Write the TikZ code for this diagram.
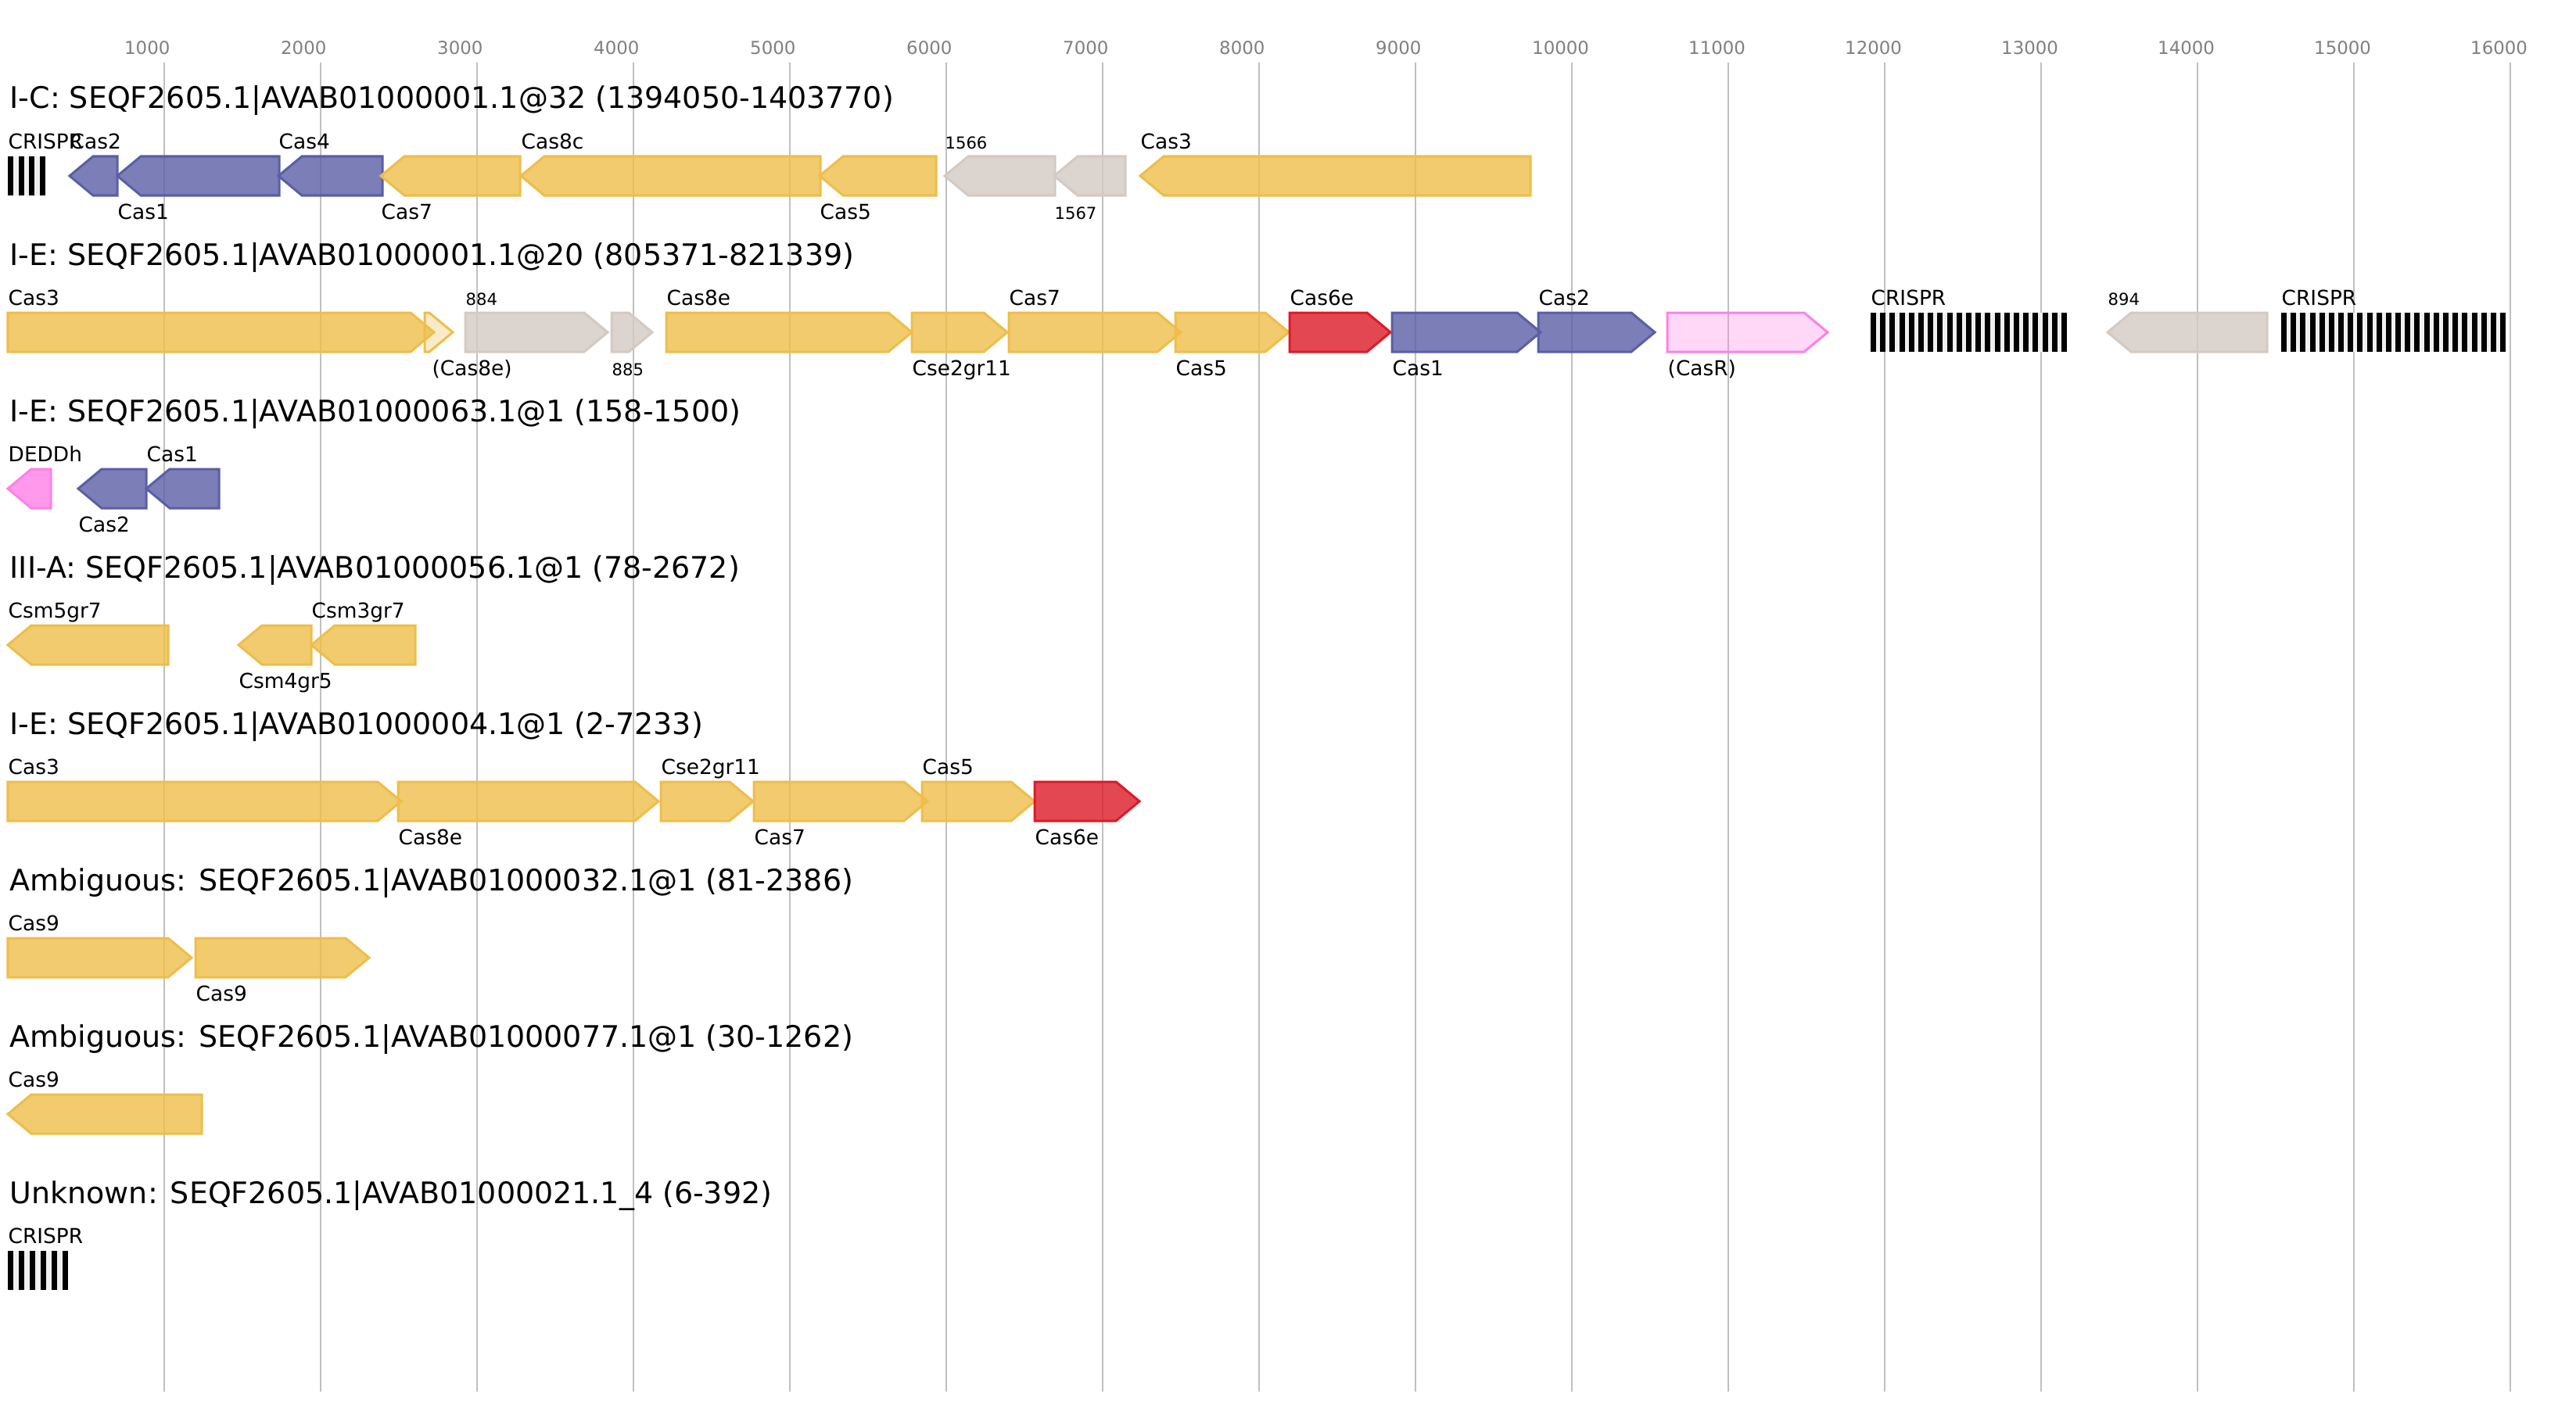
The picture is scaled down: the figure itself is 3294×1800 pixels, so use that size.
\documentclass[tikz,border=0pt]{standalone}
\usepackage{fontspec}
\setmainfont{DejaVu Sans}
\usepackage{tikz}

\definecolor{casyellow}{HTML}{EEBE4A}
\definecolor{casblue}{HTML}{5A5EA6}
\definecolor{casred}{HTML}{DD1A27}
\definecolor{caspink}{HTML}{FF80E6}
\definecolor{casgray}{HTML}{D4CAC3}
\definecolor{crisprgap}{HTML}{F0F0F0}
\definecolor{gridgray}{HTML}{C0C0C0}
\definecolor{tickgray}{HTML}{808080}

% gene arrows: style, start, end, row centre
\newcommand{\fwdgene}[4]{%
  \pgfmathsetmacro{\headlen}{min(30,#3-#2)}
  \draw[#1] (#2,#4-25) -- (#3-\headlen,#4-25) -- (#3,#4) -- (#3-\headlen,#4+25) -- (#2,#4+25) -- cycle;
}
\newcommand{\revgene}[4]{%
  \pgfmathsetmacro{\headlen}{min(30,#3-#2)}
  \draw[#1] (#3,#4-25) -- (#2+\headlen,#4-25) -- (#2,#4) -- (#2+\headlen,#4+25) -- (#3,#4+25) -- cycle;
}
% CRISPR array: start, end, row centre, repeats
\newcommand{\crisprarr}[4]{%
  \fill[crisprgap] (#1,#3-25) rectangle (#2,#3+25);
  \foreach \r in {1,...,#4}{
    \fill[black] ({#1+(\r-1)*(#2-#1-7)/(#4-1)},#3-25) rectangle ++(7,50);
  }
}

\begin{document}
\begin{tikzpicture}[x=0.01cm, y=-0.01cm,
    gene/.style={line width=0.03cm, fill opacity=0.8, line join=miter},
    interf/.style={gene, draw=casyellow, fill=casyellow},
    interfpale/.style={interf, fill opacity=0.3},
    adapt/.style={gene, draw=casblue, fill=casblue},
    proc/.style={gene, draw=casred, fill=casred},
    acc/.style={gene, draw=caspink, fill=caspink},
    accpale/.style={acc, fill opacity=0.3},
    hypo/.style={gene, draw=casgray, fill=casgray},
    gridline/.style={draw=gridgray, line width=0.02cm},
    ttl/.style={font=\fontsize{10.8}{13}\selectfont, inner sep=0pt, anchor=base west},
    lab/.style={font=\fontsize{7.5}{9}\selectfont, inner sep=0pt, anchor=base west},
    smalllab/.style={lab, font=\fontsize{6}{7}\selectfont},
    ticklab/.style={font=\fontsize{6.5}{8}\selectfont, text=tickgray, inner sep=0pt, anchor=base west}]

    \fill[white] (0,0) rectangle (3294,1800);
    \useasboundingbox (0,0) rectangle (3294,1800);

    % scale
    \foreach \k in {1,...,16} {
        \draw[gridline] (10+200*\k,80) -- (10+200*\k,1780);
        \node[ticklab] (tick\k) at (10+200*\k-51.5,70) {\k000};
    }

    % I-C
    \node[ttl] (title-ic) at (12,139) {I-C: SEQF2605.1|AVAB01000001.1@32 (1394050-1403770)};
    \crisprarr{10}{58}{225}{4}
    \node[lab] (ic-crispr) at (10,190) {CRISPR};
    \revgene{adapt}{89}{150}{225}
    \node[lab] (ic-cas2) at (89,190) {Cas2};
    \revgene{adapt}{150}{357}{225}
    \node[lab] (ic-cas1) at (150,280) {Cas1};
    \revgene{adapt}{356}{489}{225}
    \node[lab] (ic-cas4) at (356,190) {Cas4};
    \revgene{interf}{487}{665}{225}
    \node[lab] (ic-cas7) at (487,280) {Cas7};
    \revgene{interf}{666}{1049}{225}
    \node[lab] (ic-cas8c) at (666,190) {Cas8c};
    \revgene{interf}{1048}{1197}{225}
    \node[lab] (ic-cas5) at (1048,280) {Cas5};
    \revgene{hypo}{1208}{1349}{225}
    \node[smalllab] (ic-1566) at (1208,190) {1566};
    \revgene{hypo}{1348}{1439}{225}
    \node[smalllab] (ic-1567) at (1348,280) {1567};
    \revgene{interf}{1458}{1957}{225}
    \node[lab] (ic-cas3) at (1458,190) {Cas3};

    % I-E, contig 1
    \node[ttl] (title-ie1) at (12,339) {I-E: SEQF2605.1|AVAB01000001.1@20 (805371-821339)};
    \fwdgene{interf}{10}{555}{425}
    \node[lab] (ie1-cas3) at (10,390) {Cas3};
    \fwdgene{interfpale}{543}{579}{425}
    \node[lab] (ie1-cas8e-p) at (552,480) {(Cas8e)};
    \fwdgene{hypo}{595}{777}{425}
    \node[smalllab] (ie1-884) at (595,390) {884};
    \fwdgene{hypo}{782}{834}{425}
    \node[smalllab] (ie1-885) at (782,480) {885};
    \fwdgene{interf}{852}{1166}{425}
    \node[lab] (ie1-cas8e) at (852,390) {Cas8e};
    \fwdgene{interf}{1166}{1288}{425}
    \node[lab] (ie1-cse2) at (1166,480) {Cse2gr11};
    \fwdgene{interf}{1290}{1510}{425}
    \node[lab] (ie1-cas7) at (1290,390) {Cas7};
    \fwdgene{interf}{1503}{1648}{425}
    \node[lab] (ie1-cas5) at (1503,480) {Cas5};
    \fwdgene{proc}{1649}{1778}{425}
    \node[lab] (ie1-cas6e) at (1649,390) {Cas6e};
    \fwdgene{adapt}{1780}{1970}{425}
    \node[lab] (ie1-cas1) at (1780,480) {Cas1};
    \fwdgene{adapt}{1967}{2116}{425}
    \node[lab] (ie1-cas2) at (1967,390) {Cas2};
    \fwdgene{accpale}{2132}{2337}{425}
    \node[lab] (ie1-casr) at (2132,480) {(CasR)};
    \crisprarr{2392}{2643}{425}{21}
    \node[lab] (ie1-crispr-a) at (2392,390) {CRISPR};
    \revgene{hypo}{2695}{2899}{425}
    \node[smalllab] (ie1-894) at (2695,390) {894};
    \crisprarr{2917}{3204}{425}{24}
    \node[lab] (ie1-crispr-b) at (2917,390) {CRISPR};

    % I-E, contig 63
    \node[ttl] (title-ie63) at (12,539) {I-E: SEQF2605.1|AVAB01000063.1@1 (158-1500)};
    \revgene{acc}{10}{65}{625}
    \node[lab] (ie63-deddh) at (10,590) {DEDDh};
    \revgene{adapt}{100}{187}{625}
    \node[lab] (ie63-cas2) at (100,680) {Cas2};
    \revgene{adapt}{187}{280}{625}
    \node[lab] (ie63-cas1) at (187,590) {Cas1};

    % III-A
    \node[ttl] (title-iiia) at (12,739) {III-A: SEQF2605.1|AVAB01000056.1@1 (78-2672)};
    \revgene{interf}{10}{215}{825}
    \node[lab] (iiia-csm5) at (10,790) {Csm5gr7};
    \revgene{interf}{305}{398}{825}
    \node[lab] (iiia-csm4) at (305,880) {Csm4gr5};
    \revgene{interf}{398}{531}{825}
    \node[lab] (iiia-csm3) at (398,790) {Csm3gr7};

    % I-E, contig 4
    \node[ttl] (title-ie4) at (12,939) {I-E: SEQF2605.1|AVAB01000004.1@1 (2-7233)};
    \fwdgene{interf}{10}{513}{1025}
    \node[lab] (ie4-cas3) at (10,990) {Cas3};
    \fwdgene{interf}{509}{842}{1025}
    \node[lab] (ie4-cas8e) at (509,1080) {Cas8e};
    \fwdgene{interf}{845}{963}{1025}
    \node[lab] (ie4-cse2) at (845,990) {Cse2gr11};
    \fwdgene{interf}{964}{1186}{1025}
    \node[lab] (ie4-cas7) at (964,1080) {Cas7};
    \fwdgene{interf}{1179}{1323}{1025}
    \node[lab] (ie4-cas5) at (1179,990) {Cas5};
    \fwdgene{proc}{1323}{1457}{1025}
    \node[lab] (ie4-cas6e) at (1323,1080) {Cas6e};

    % Ambiguous, contig 32
    \node[ttl] (title-amb32) at (12,1139) {Ambiguous: SEQF2605.1|AVAB01000032.1@1 (81-2386)};
    \fwdgene{interf}{10}{245}{1225}
    \node[lab] (amb32-cas9a) at (10,1190) {Cas9};
    \fwdgene{interf}{250}{472}{1225}
    \node[lab] (amb32-cas9b) at (250,1280) {Cas9};

    % Ambiguous, contig 77
    \node[ttl] (title-amb77) at (12,1339) {Ambiguous: SEQF2605.1|AVAB01000077.1@1 (30-1262)};
    \revgene{interf}{10}{258}{1425}
    \node[lab] (amb77-cas9) at (10,1390) {Cas9};

    % Unknown
    \node[ttl] (title-unk) at (12,1539) {Unknown: SEQF2605.1|AVAB01000021.1\_4 (6-392)};
    \crisprarr{10}{87}{1625}{6}
    \node[lab] (unk-crispr) at (10,1590) {CRISPR};
\end{tikzpicture}
\end{document}
